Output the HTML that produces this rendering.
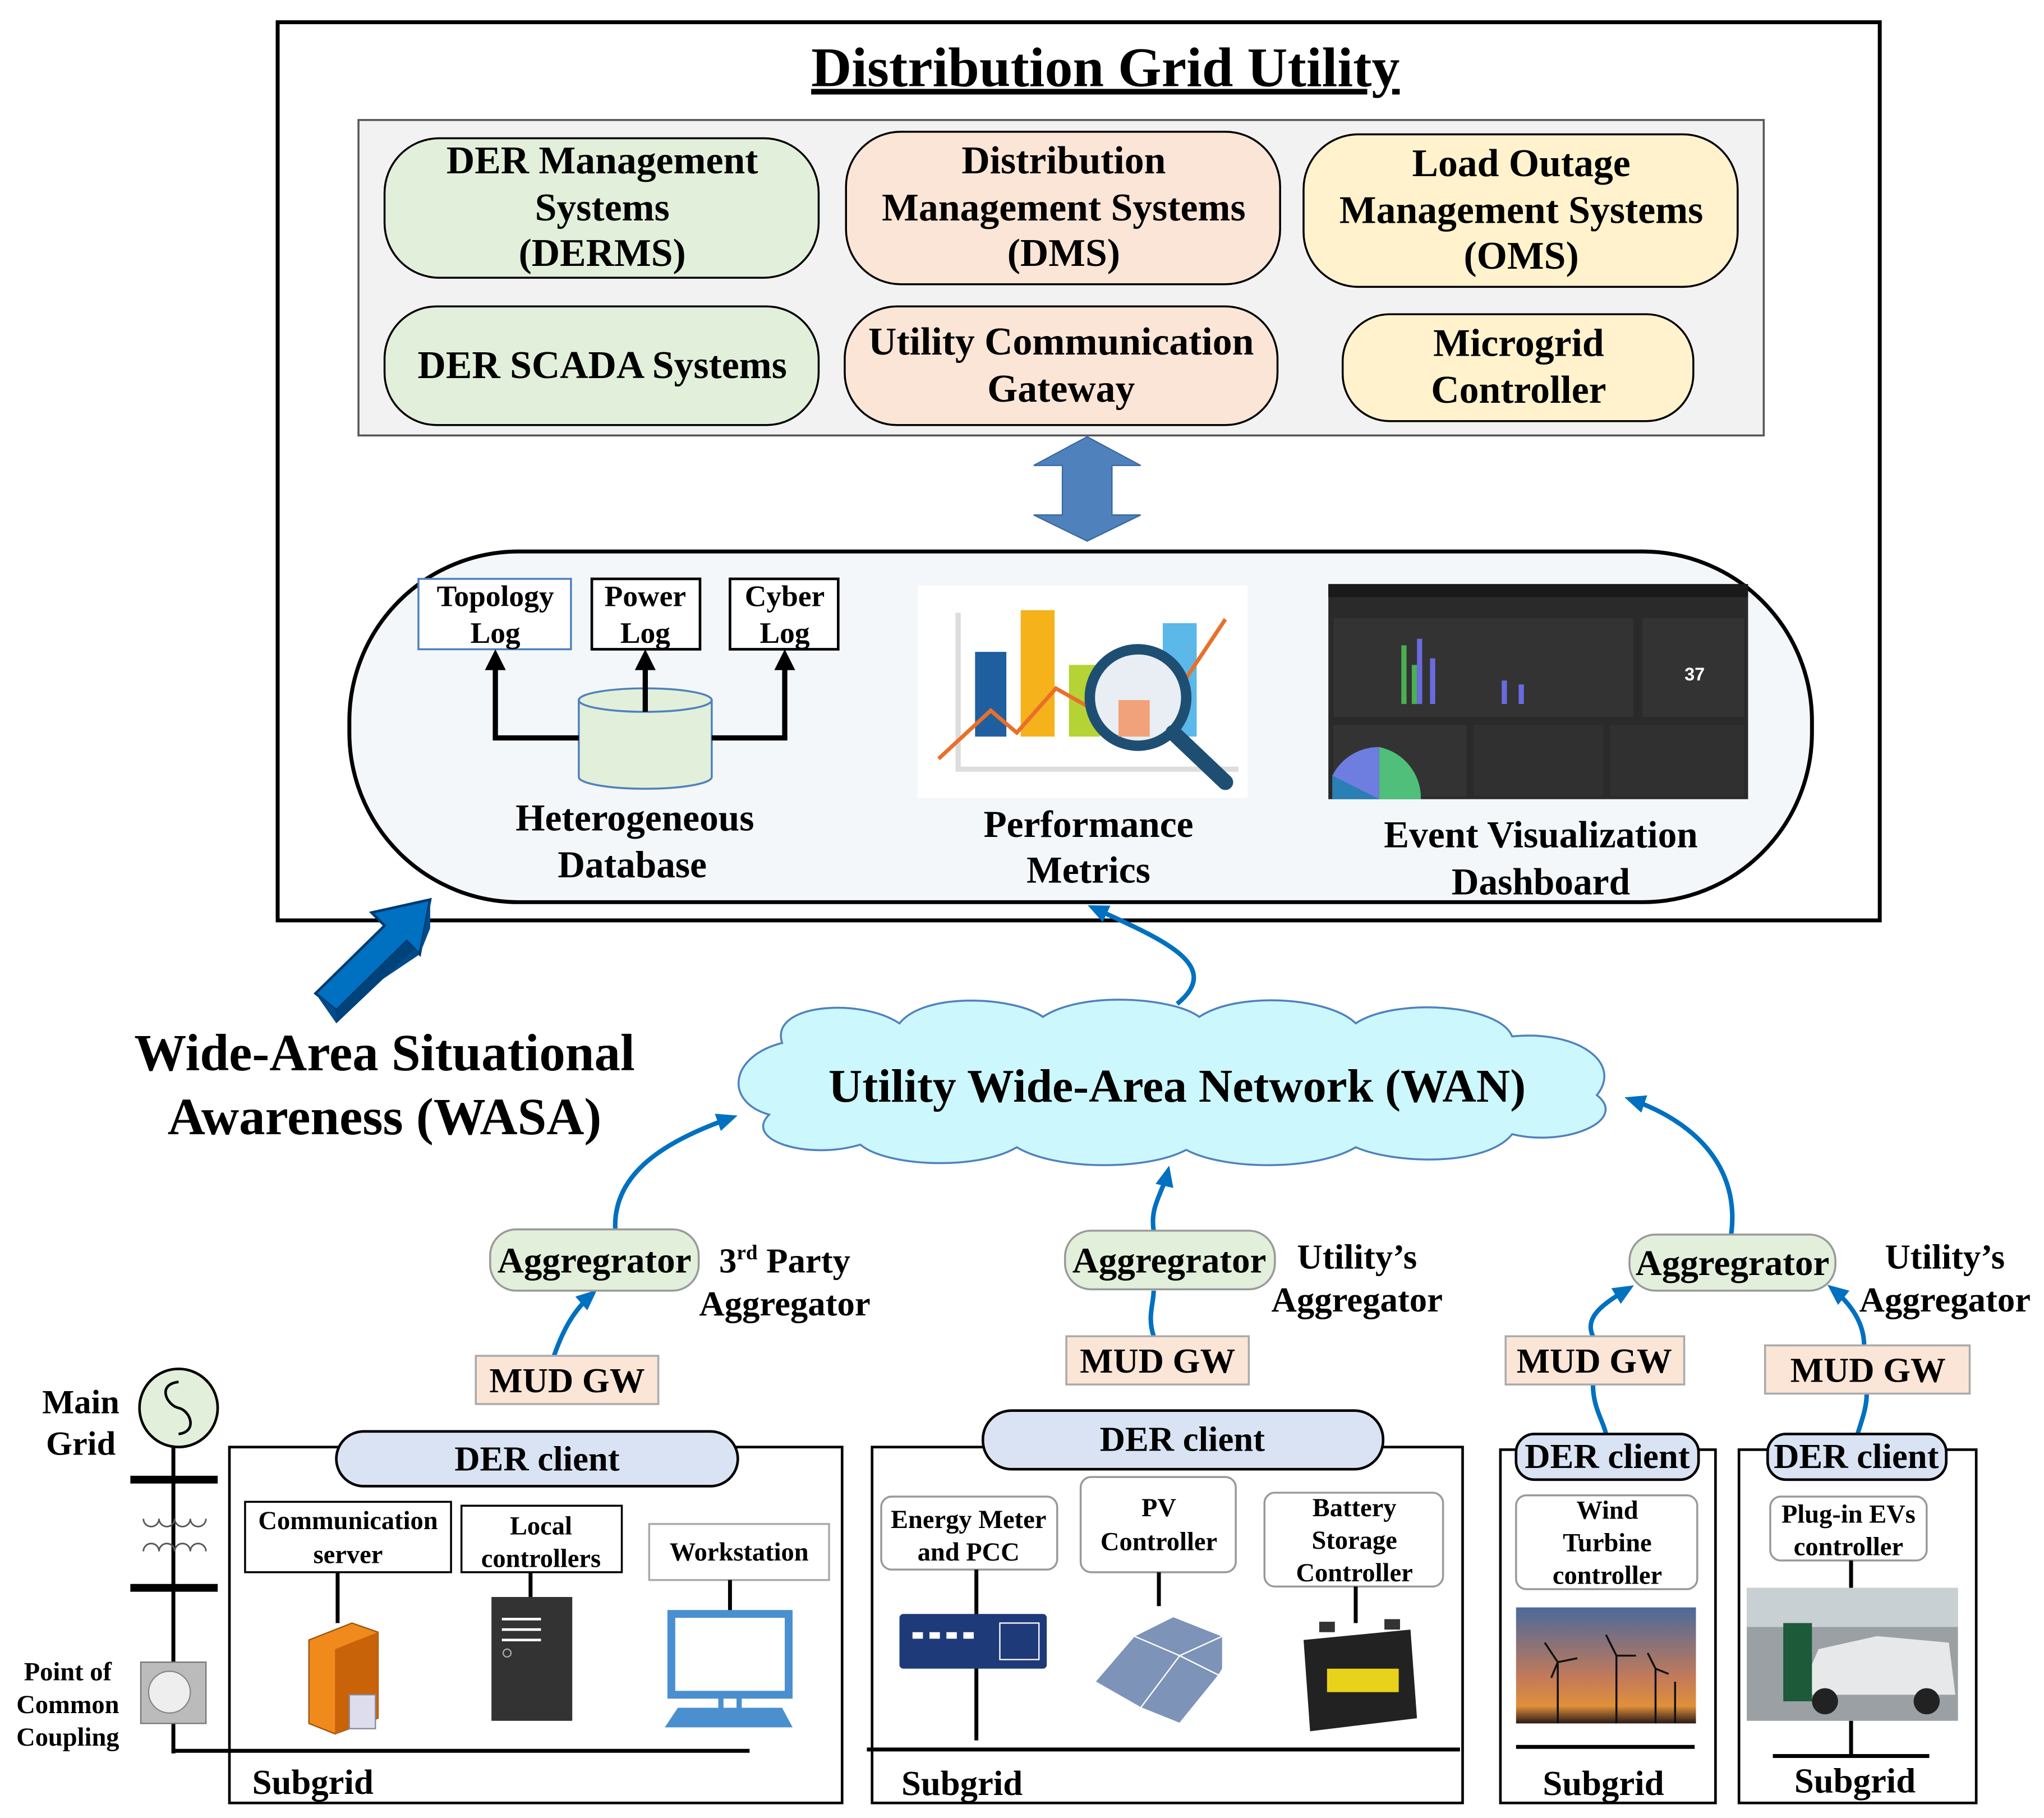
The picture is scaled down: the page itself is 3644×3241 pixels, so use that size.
<!DOCTYPE html>
<html><head><meta charset="utf-8"><style>html,body{margin:0;padding:0;background:#fff}svg{display:block}</style></head>
<body>
<svg xmlns="http://www.w3.org/2000/svg" width="3644" height="3241" viewBox="0 0 1568 1394.5" font-family="'Liberation Serif', serif" font-weight="bold">
<defs>
<marker id="au" markerWidth="16" markerHeight="14" refX="12" refY="7" orient="auto" markerUnits="userSpaceOnUse"><path d="M0,0 L16,7 L0,14 Z" fill="#0070c0"/></marker>
</defs>
<rect width="1568" height="1395" fill="#fff"/>
<rect x="213" y="17" width="1229" height="689" fill="#fff" stroke="#000" stroke-width="3"/>
<text x="848" y="66" font-size="43" text-anchor="middle" text-decoration="underline">Distribution Grid Utility</text>
<rect x="275" y="92" width="1078" height="242" fill="#f2f2f2" stroke="#555" stroke-width="1.5"/>
<g stroke="#000" stroke-width="1.5">
<rect x="295" y="106" width="333" height="107" rx="42" fill="#e2efda"/>
<rect x="649" y="101" width="333" height="117" rx="42" fill="#fbe5d6"/>
<rect x="1000" y="103" width="333" height="117" rx="42" fill="#fff2cc"/>
<rect x="295" y="235" width="333" height="91" rx="40" fill="#e2efda"/>
<rect x="648" y="235" width="332" height="91" rx="40" fill="#fbe5d6"/>
<rect x="1030" y="241" width="269" height="82" rx="36" fill="#fff2cc"/>
</g>
<g font-size="30" text-anchor="middle">
<text x="462" y="133">DER Management</text><text x="462" y="169">Systems</text><text x="462" y="204">(DERMS)</text>
<text x="816" y="133">Distribution</text><text x="816" y="169">Management Systems</text><text x="816" y="204">(DMS)</text>
<text x="1167" y="135">Load Outage</text><text x="1167" y="171">Management Systems</text><text x="1167" y="206">(OMS)</text>
<text x="462" y="290">DER SCADA Systems</text>
<text x="814" y="272">Utility Communication</text><text x="814" y="308">Gateway</text>
<text x="1165" y="273">Microgrid</text><text x="1165" y="309">Controller</text>
</g>
<path d="M834,335 L875,357 L853,357 L853,395 L875,395 L834,415 L793,395 L815,395 L815,357 L793,357 Z" fill="#4f81bd" stroke="#3a6a9e"/>
<rect x="268" y="423" width="1122" height="269" rx="130" fill="#f3f7fa" stroke="#000" stroke-width="3"/>
<rect x="321" y="444" width="117" height="54" fill="#fff" stroke="#4f81bd" stroke-width="1.5"/>
<rect x="454" y="444" width="83" height="54" fill="#fff" stroke="#000" stroke-width="2"/>
<rect x="560" y="444" width="83" height="54" fill="#fff" stroke="#000" stroke-width="2"/>
<g font-size="23" text-anchor="middle">
<text x="380" y="465">Topology</text><text x="380" y="493">Log</text>
<text x="495" y="465">Power</text><text x="495" y="493">Log</text>
<text x="602" y="465">Cyber</text><text x="602" y="493">Log</text>
</g>
<path d="M444,537 L444,596 A51,9 0 0 0 546,596 L546,537 Z" fill="#e2efda" stroke="#4f81bd" stroke-width="1.5"/>
<ellipse cx="495" cy="537" rx="51" ry="9" fill="#e2efda" stroke="#4f81bd" stroke-width="1.5"/>
<g stroke="#000" stroke-width="4" fill="none">
<path d="M444,566 L380,566 L380,512"/><path d="M495,546 L495,512"/><path d="M546,566 L602,566 L602,512"/>
</g>
<g fill="#000"><path d="M372,514 L380,498 L388,514Z"/><path d="M487,514 L495,498 L503,514Z"/><path d="M594,514 L602,498 L610,514Z"/></g>
<g font-size="29" text-anchor="middle">
<text x="487" y="637">Heterogeneous</text><text x="485" y="673">Database</text>
<text x="835" y="642">Performance</text><text x="835" y="677">Metrics</text>
<text x="1182" y="650">Event Visualization</text><text x="1182" y="686">Dashboard</text>
</g>
<rect x="704" y="449" width="253" height="163" fill="#fff"/>
<path d="M735,470 L735,590 L950,590" stroke="#ddd" stroke-width="4" fill="none"/>
<rect x="748" y="500" width="24" height="65" fill="#1f5fa0"/>
<rect x="783" y="468" width="26" height="97" fill="#f6b21b"/>
<rect x="820" y="510" width="24" height="55" fill="#b5d334"/>
<rect x="892" y="478" width="26" height="87" fill="#5bb8e8"/>
<polyline points="720,582 760,545 780,562 810,528 840,545 870,510 900,535 940,475" stroke="#e8702a" stroke-width="3" fill="none"/>
<circle cx="873" cy="535" r="37" fill="#e8eef3" stroke="#1e4f73" stroke-width="8"/>
<rect x="858" y="537" width="24" height="28" fill="#f2a27a"/>
<path d="M900,562 L940,600" stroke="#1e4f73" stroke-width="12" stroke-linecap="round"/>
<rect x="1019" y="448" width="322" height="165" fill="#2a2a2a"/>
<rect x="1019" y="448" width="322" height="10" fill="#1a1a1a"/>
<rect x="1023" y="474" width="230" height="76" fill="#333"/>
<rect x="1260" y="474" width="78" height="76" fill="#333"/>
<text x="1300" y="522" font-family="'Liberation Sans',sans-serif" font-size="14" fill="#fff" text-anchor="middle">37</text>
<g fill="#4caf50"><rect x="1075" y="495" width="4" height="45"/><rect x="1083" y="510" width="4" height="30"/></g>
<g fill="#6a6ae0"><rect x="1087" y="490" width="4" height="50"/><rect x="1097" y="505" width="4" height="35"/><rect x="1152" y="522" width="4" height="18"/><rect x="1165" y="525" width="4" height="15"/></g>
<rect x="1023" y="556" width="102" height="55" fill="#333"/>
<rect x="1130" y="556" width="100" height="55" fill="#303030"/>
<rect x="1235" y="556" width="103" height="55" fill="#303030"/>
<path d="M1058,613 L1058,573 A40,40 0 0 1 1090,613 Z" fill="#4fbf7a"/>
<path d="M1058,613 L1022,595 A40,40 0 0 1 1058,573 Z" fill="#6d7de0"/>
<path d="M1058,613 L1022,613 L1022,595 Z" fill="#2a7fb5"/>
<!-- WASA arrow -->
<path d="M242,762 L295,710 L285,700 L330,690 L322,732 L312,722 L258,775 Z" fill="#0070c0" stroke="#003a70" stroke-width="2"/>
<path d="M242,762 L258,785 L262,779 L258,775 Z" fill="#004b8a"/>
<path d="M258,775 L312,722 L322,732 L330,712 L330,690 L322,732 Z" fill="#004b8a"/>
<path d="M258,785 L318,728 L312,722 L258,775 Z" fill="#00427a"/>
<g font-size="40" text-anchor="middle">
<text x="295" y="821">Wide-Area Situational</text><text x="295" y="870">Awareness (WASA)</text>
</g>
<path d="M600,800 C590,770 660,765 690,785 C710,760 780,765 800,780 C830,760 900,765 920,780 C950,760 1020,765 1040,785 C1070,765 1150,770 1160,795 C1210,790 1245,815 1225,840 C1250,860 1200,880 1160,870 C1140,895 1070,893 1040,880 C1010,898 940,898 910,882 C880,898 810,898 780,880 C750,898 680,895 660,878 C620,890 570,875 590,855 C555,845 560,810 600,800 Z" fill="#ccf7fc" stroke="#4f81bd" stroke-width="1.5"/>
<text x="903" y="845" font-size="36" text-anchor="middle">Utility Wide-Area Network (WAN)</text>
<g stroke="#0070c0" stroke-width="3.5" fill="none" marker-end="url(#au)">
<path d="M903,770 C940,740 890,720 838,696"/>
<path d="M472,943 C470,900 510,875 562,857"/>
<path d="M885,944 C882,925 892,915 896,898"/>
<path d="M1328,947 C1335,895 1300,860 1250,843"/>
<path d="M425,1040 C432,1020 440,1005 455,992"/>
<path d="M1222,1025 C1215,1010 1230,1000 1250,988"/>
<path d="M1430,1032 C1430,1015 1420,1000 1405,988"/>
</g>
<g stroke="#0070c0" stroke-width="3.5" fill="none">
<path d="M885,1025 C880,1010 885,1000 885,990"/>
<path d="M1222,1062 C1222,1080 1230,1090 1232,1100"/>
<path d="M1432,1069 C1432,1080 1428,1090 1425,1100"/>
</g>
<g stroke="#999" stroke-width="1.5" fill="#e2efda">
<rect x="376" y="943" width="160" height="47" rx="20"/>
<rect x="817" y="944" width="161" height="45" rx="20"/>
<rect x="1250" y="947" width="158" height="43" rx="20"/>
</g>
<g font-size="28" text-anchor="middle">
<text x="456" y="976">Aggregrator</text><text x="897" y="976">Aggregrator</text><text x="1329" y="978">Aggregrator</text>
</g>
<g font-size="27" text-anchor="middle">
<text x="602" y="976">3<tspan font-size="16" dy="-10">rd</tspan><tspan dy="10"> Party</tspan></text><text x="602" y="1009">Aggregator</text>
<text x="1041" y="973">Utility’s</text><text x="1041" y="1006">Aggregator</text>
<text x="1492" y="973">Utility’s</text><text x="1492" y="1006">Aggregator</text>
</g>
<g stroke="#aaa" stroke-width="1.5" fill="#fbe5d6">
<rect x="365" y="1040" width="140" height="37"/><rect x="818" y="1025" width="140" height="37"/>
<rect x="1155" y="1025" width="137" height="37"/><rect x="1354" y="1032" width="157" height="37"/>
</g>
<g font-size="27" text-anchor="middle">
<text x="435" y="1068">MUD GW</text><text x="888" y="1053">MUD GW</text><text x="1223" y="1053">MUD GW</text><text x="1433" y="1060">MUD GW</text>
</g>
<g fill="none" stroke="#000" stroke-width="2">
<rect x="176" y="1110" width="470" height="273"/><rect x="669" y="1110" width="453" height="273"/>
<rect x="1151" y="1112" width="165" height="271"/><rect x="1334" y="1112" width="182" height="271"/>
</g>
<g fill="#dae3f3" stroke="#000" stroke-width="2">
<rect x="258" y="1098" width="308" height="42" rx="21"/><rect x="754" y="1082" width="307" height="45" rx="22"/>
<rect x="1163" y="1100" width="140" height="35" rx="14"/><rect x="1356" y="1100" width="137" height="35" rx="14"/>
</g>
<g font-size="27" text-anchor="middle">
<text x="412" y="1128">DER client</text><text x="907" y="1113">DER client</text>
<text x="1233" y="1126">DER client</text><text x="1424" y="1126">DER client</text>
<text x="240" y="1376">Subgrid</text><text x="738" y="1377">Subgrid</text><text x="1230" y="1377">Subgrid</text><text x="1423" y="1375">Subgrid</text>
</g>
<g fill="#fff" stroke-width="1.5">
<rect x="188" y="1152" width="158" height="54" stroke="#000"/>
<rect x="354" y="1155" width="123" height="51" stroke="#000"/>
<rect x="498" y="1169" width="138" height="43" stroke="#aaa"/>
<rect x="676" y="1148" width="135" height="56" rx="8" stroke="#999"/>
<rect x="829" y="1133" width="119" height="73" rx="8" stroke="#999"/>
<rect x="970" y="1145" width="137" height="72" rx="8" stroke="#999"/>
<rect x="1163" y="1147" width="139" height="72" rx="8" stroke="#999"/>
<rect x="1358" y="1148" width="120" height="49" rx="8" stroke="#999"/>
</g>
<g font-size="20" text-anchor="middle">
<text x="267" y="1173">Communication</text><text x="267" y="1199">server</text>
<text x="415" y="1177">Local</text><text x="415" y="1202">controllers</text>
<text x="567" y="1197">Workstation</text>
<text x="743" y="1172">Energy Meter</text><text x="743" y="1197">and PCC</text>
<text x="889" y="1163">PV</text><text x="889" y="1189">Controller</text>
<text x="1039" y="1163">Battery</text><text x="1039" y="1188">Storage</text><text x="1039" y="1213">Controller</text>
<text x="1233" y="1165">Wind</text><text x="1233" y="1190">Turbine</text><text x="1233" y="1215">controller</text>
<text x="1418" y="1168">Plug-in EVs</text><text x="1418" y="1193">controller</text>
</g>
<g stroke="#000" stroke-width="3">
<path d="M259,1206 V1245"/><path d="M407,1206 V1225"/><path d="M560,1212 V1238"/>
<path d="M749,1204 V1335"/><path d="M889,1206 V1232"/><path d="M1040,1217 V1245"/>
<path d="M1420,1197 V1218"/><path d="M1420,1320 V1347"/>
<path d="M133,1343 H575"/><path d="M665,1342 H1120"/><path d="M1163,1340 H1300"/><path d="M1360,1347 H1480"/>
<path d="M133,1110 V1345"/>
</g>
<path d="M237,1258 L270,1245 L290,1252 L290,1318 L257,1330 L237,1322 Z" fill="#f08a1c" stroke="#a0520a"/>
<path d="M257,1265 L290,1252 L290,1318 L257,1330 Z" fill="#c8630a"/>
<rect x="268" y="1300" width="20" height="26" fill="#dde" stroke="#889"/>
<rect x="377" y="1225" width="62" height="95" fill="#333"/>
<g stroke="#fff" stroke-width="2"><path d="M385,1242 H415 M385,1250 H415 M385,1258 H415"/></g>
<circle cx="389" cy="1268" r="3" fill="none" stroke="#aaa"/>
<rect x="515" y="1238" width="90" height="62" fill="#fff" stroke="#4a8fcf" stroke-width="6"/>
<path d="M553,1300 V1310 M567,1300 V1310" stroke="#4a8fcf" stroke-width="4"/>
<path d="M520,1310 L600,1310 L608,1325 L510,1325 Z" fill="#4a8fcf"/>
<rect x="690" y="1238" width="113" height="42" rx="3" fill="#1e3a78"/>
<g fill="#fff"><rect x="700" y="1252" width="8" height="5"/><rect x="713" y="1252" width="8" height="5"/><rect x="726" y="1252" width="8" height="5"/><rect x="739" y="1252" width="8" height="5"/></g>
<rect x="767" y="1245" width="30" height="28" fill="none" stroke="#fff"/>
<g fill="#7d93b8" stroke="#fff" stroke-width="1">
<path d="M840,1290 L870,1255 L905,1270 L875,1310 Z"/><path d="M870,1255 L900,1240 L938,1255 L905,1270 Z"/><path d="M875,1310 L905,1270 L935,1285 L905,1322 Z"/><path d="M905,1270 L938,1255 L938,1280 L935,1285 Z"/>
</g>
<path d="M1000,1258 L1082,1250 L1087,1318 L1005,1328 Z" fill="#222"/>
<rect x="1018" y="1280" width="55" height="18" fill="#e8d21a"/>
<rect x="1012" y="1244" width="12" height="8" fill="#333"/><rect x="1062" y="1242" width="12" height="8" fill="#333"/>
<defs><linearGradient id="sun" x1="0" y1="0" x2="0" y2="1"><stop offset="0" stop-color="#4b6a9a"/><stop offset="0.6" stop-color="#c27a5a"/><stop offset="0.85" stop-color="#e0903a"/><stop offset="1" stop-color="#2a1a18"/></linearGradient></defs>
<rect x="1163" y="1233" width="138" height="89" fill="url(#sun)"/>
<g stroke="#111" stroke-width="1.5"><path d="M1195,1322 V1275 M1195,1275 l-10,-15 M1195,1275 l15,-3 M1195,1275 l-5,12 M1240,1322 V1270 M1240,1270 l-8,-16 M1240,1270 l15,0 M1270,1322 V1280 M1270,1280 l-6,-12 M1270,1280 l10,4 M1285,1322 V1290"/></g>
<rect x="1340" y="1218" width="162" height="102" fill="#9aa0a4"/>
<rect x="1340" y="1218" width="162" height="30" fill="#c8d0d4"/>
<path d="M1380,1300 L1395,1265 L1440,1255 L1495,1260 L1500,1300 Z" fill="#e6e8ea"/>
<rect x="1368" y="1245" width="22" height="60" fill="#1c5a3a"/>
<circle cx="1400" cy="1305" r="10" fill="#222"/><circle cx="1478" cy="1305" r="10" fill="#222"/>
<circle cx="137" cy="1080" r="30" fill="#e2efda" stroke="#000" stroke-width="2"/>
<path d="M137,1060 C120,1062 128,1078 137,1080 C146,1082 152,1098 137,1100" fill="none" stroke="#000" stroke-width="2"/>
<g font-size="26" text-anchor="middle"><text x="62" y="1084">Main</text><text x="62" y="1116">Grid</text></g>
<g stroke="#000" stroke-width="6"><path d="M100,1135 H167 M100,1218 H167"/></g>
<g fill="none" stroke="#555" stroke-width="1.2"><path d="M110,1165 a6,6 0 0 0 12,0 a6,6 0 0 0 12,0 a6,6 0 0 0 12,0 a6,6 0 0 0 12,0"/><path d="M110,1190 a6,6 0 0 1 12,0 a6,6 0 0 1 12,0 a6,6 0 0 1 12,0 a6,6 0 0 1 12,0"/></g>
<rect x="108" y="1275" width="50" height="47" fill="#bbb" stroke="#777"/>
<circle cx="130" cy="1298" r="16" fill="#eee" stroke="#888"/>
<g font-size="20" text-anchor="middle"><text x="52" y="1289">Point of</text><text x="52" y="1314">Common</text><text x="52" y="1339">Coupling</text></g>
</svg>
</body></html>
